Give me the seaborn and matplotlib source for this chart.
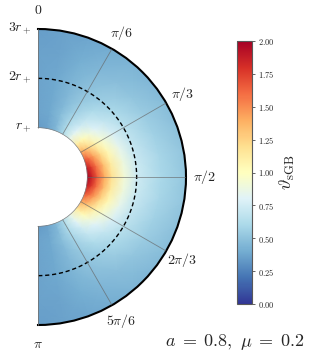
import numpy as np
import matplotlib
matplotlib.use("Agg")
import matplotlib.pyplot as plt
import seaborn as sns
from matplotlib.transforms import offset_copy

# radial samples (units of r_+) and polar angle samples (deg, 0..90, mirrored below)
r_vals = [1.0, 1.1, 1.2, 1.35, 1.5, 1.75, 2.0, 2.5, 3.0]
theta_half_deg = [0, 10, 20, 30, 40, 50, 60, 70, 80, 90]

# scalar field, one row per angle
field_half = [
    [0.34, 0.35, 0.36, 0.37, 0.37, 0.37, 0.37, 0.36, 0.35],
    [0.36, 0.37, 0.38, 0.39, 0.39, 0.39, 0.39, 0.37, 0.36],
    [0.44, 0.45, 0.46, 0.47, 0.46, 0.45, 0.44, 0.41, 0.38],
    [0.60, 0.62, 0.62, 0.60, 0.57, 0.53, 0.50, 0.45, 0.40],
    [0.85, 0.84, 0.80, 0.74, 0.69, 0.61, 0.55, 0.48, 0.43],
    [1.12, 1.08, 1.02, 0.90, 0.80, 0.69, 0.61, 0.51, 0.45],
    [1.40, 1.34, 1.24, 1.07, 0.93, 0.77, 0.66, 0.54, 0.47],
    [1.68, 1.58, 1.44, 1.22, 1.04, 0.84, 0.69, 0.57, 0.49],
    [1.88, 1.76, 1.58, 1.34, 1.13, 0.89, 0.72, 0.59, 0.51],
    [1.98, 1.85, 1.65, 1.40, 1.18, 0.92, 0.74, 0.60, 0.52],
]

theta_ticks_deg = [0, 30, 60, 90, 120, 150, 180]
theta_labels = [r"$0$", r"$\pi/6$", r"$\pi/3$", r"$\pi/2$", r"$2\pi/3$", r"$5\pi/6$", r"$\pi$"]
r_ticks = [1, 2, 3]
r_labels = [r"$r_+$", r"$2r_+$", r"$3r_+$"]
cbar_ticks = [0.0, 0.25, 0.5, 0.75, 1.0, 1.25, 1.5, 1.75, 2.0]

sns.set_style("white")
plt.rcParams["mathtext.fontset"] = "cm"
plt.rcParams["font.family"] = ["DejaVu Serif"]

# equatorial symmetry: mirror the upper half onto the lower half
theta_deg = theta_half_deg + [180 - t for t in theta_half_deg[-2::-1]]
field = np.array(field_half + field_half[-2::-1])

T, R = np.meshgrid(np.deg2rad(theta_deg), r_vals, indexing="ij")
cmap = sns.color_palette("RdYlBu_r", as_cmap=True)

fig = plt.figure(figsize=(3.09, 3.56), dpi=100)
# the half wedge is drawn at half the box size, centred in it
ax = fig.add_axes([-36 / 309, -117 / 356, 296 / 309, 592 / 356], projection="polar")
ax.set_theta_zero_location("N")
ax.set_theta_direction(-1)
ax.set_thetamin(0)
ax.set_thetamax(180)

mesh = ax.pcolormesh(T, R, field, shading="gouraud", cmap=cmap, vmin=0, vmax=2)

ax.set_rlim(1, 3)
ax.set_rorigin(0)

# dashed circle at 2 r_+
th_line = np.linspace(0, np.pi, 200)
ax.plot(th_line, np.full_like(th_line, 2.0), color="black", ls=(0, (3, 2)), lw=1.0)

ax.set_axisbelow(False)
ax.set_thetagrids(theta_ticks_deg, theta_labels, fontsize=10)
ax.xaxis.grid(True, color="0.4", lw=0.6, alpha=0.7)
ax.set_rticks(r_ticks)
ax.set_yticklabels([])
ax.yaxis.grid(False)
ax.tick_params(axis="x", pad=3)

lab_tr = offset_copy(ax.transData, fig=fig, x=-4, y=0, units="points")
for rv, lab in zip(r_ticks, r_labels):
    ax.text(0, rv, lab, transform=lab_tr, ha="right", va="center", fontsize=10)

ax.spines["polar"].set_linewidth(1.5)
ax.spines["polar"].set_color("black")
ax.spines["inner"].set_linewidth(0.5)
ax.spines["inner"].set_color("0.5")
ax.spines["start"].set_linewidth(0.4)
ax.spines["start"].set_color("0.55")
ax.spines["end"].set_linewidth(0.4)
ax.spines["end"].set_color("0.55")

cax = fig.add_axes([237 / 309, 52 / 356, 15 / 309, 263 / 356])
cb = fig.colorbar(mesh, cax=cax, ticks=cbar_ticks)
cb.ax.set_yticklabels([f"${t:.2f}$" for t in cbar_ticks])
cb.ax.tick_params(labelsize=6, length=2.5, width=0.5, pad=1.5)
cb.outline.set_edgecolor("0.35")
cb.outline.set_linewidth(0.8)
cb.set_label(r"$\vartheta_{\rm sGB}$", fontsize=13, labelpad=3)

fig.text(0.985, 0.04, r"$a\;=\;0.8,\ \mu\;=\;0.2$", ha="right", va="center", fontsize=13)

fig.savefig("out.png", dpi=100)
